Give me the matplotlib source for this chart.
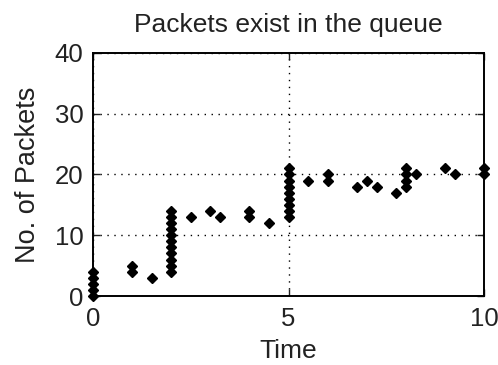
import matplotlib
matplotlib.use("Agg")
import matplotlib.pyplot as plt

# sample times and queue length at each sample
time = [0, 0, 0, 0, 0,
        1, 1, 1.5,
        2, 2, 2, 2, 2, 2, 2, 2, 2, 2, 2,
        2.5, 3, 3.25, 4, 4, 4.5,
        5, 5, 5, 5, 5, 5, 5, 5, 5,
        5.5, 6, 6, 6.75, 7, 7.25, 7.75,
        8, 8, 8, 8, 8.25, 9, 9.25, 10, 10]
packets = [0, 1, 2, 3, 4,
           4, 5, 3,
           4, 5, 6, 7, 8, 9, 10, 11, 12, 13, 14,
           13, 14, 13, 13, 14, 12,
           13, 14, 15, 16, 17, 18, 19, 20, 21,
           19, 19, 20, 18, 19, 18, 17,
           18, 19, 20, 21, 20, 21, 20, 20, 21]

xticks = [0, 5, 10]
yticks = [0, 10, 20, 30, 40]

plt.rcParams['font.family'] = ['Liberation Sans', 'DejaVu Sans']

fig = plt.figure(figsize=(4.98, 3.65), dpi=100)
ax = fig.add_axes([0.187, 0.189, 0.785, 0.666])

ax.plot(time, packets, linestyle='none', marker='D', markersize=5.5,
        color='black', markeredgecolor='black', clip_on=False, zorder=3)

ax.set_xlim(0, 10)
ax.set_ylim(0, 40)
ax.set_xticks(xticks)
ax.set_yticks(yticks)
ax.grid(True, color='black', linestyle=(0, (1, 4)), linewidth=1.0)

ax.tick_params(direction='in', length=5, width=1, top=True, right=True,
               labelsize=18.5, colors='#222222')
ax.tick_params(axis='x', pad=8)
ax.tick_params(axis='y', pad=7)
for sp in ax.spines.values():
    sp.set_linewidth(1.4)

ax.set_title('Packets exist in the queue', fontsize=19, pad=15, color='#222222')
ax.set_xlabel('Time', fontsize=19, labelpad=6, color='#222222')
ax.set_ylabel('No. of Packets', fontsize=19.5, labelpad=10, color='#222222')

fig.savefig('out.png', dpi=100)
